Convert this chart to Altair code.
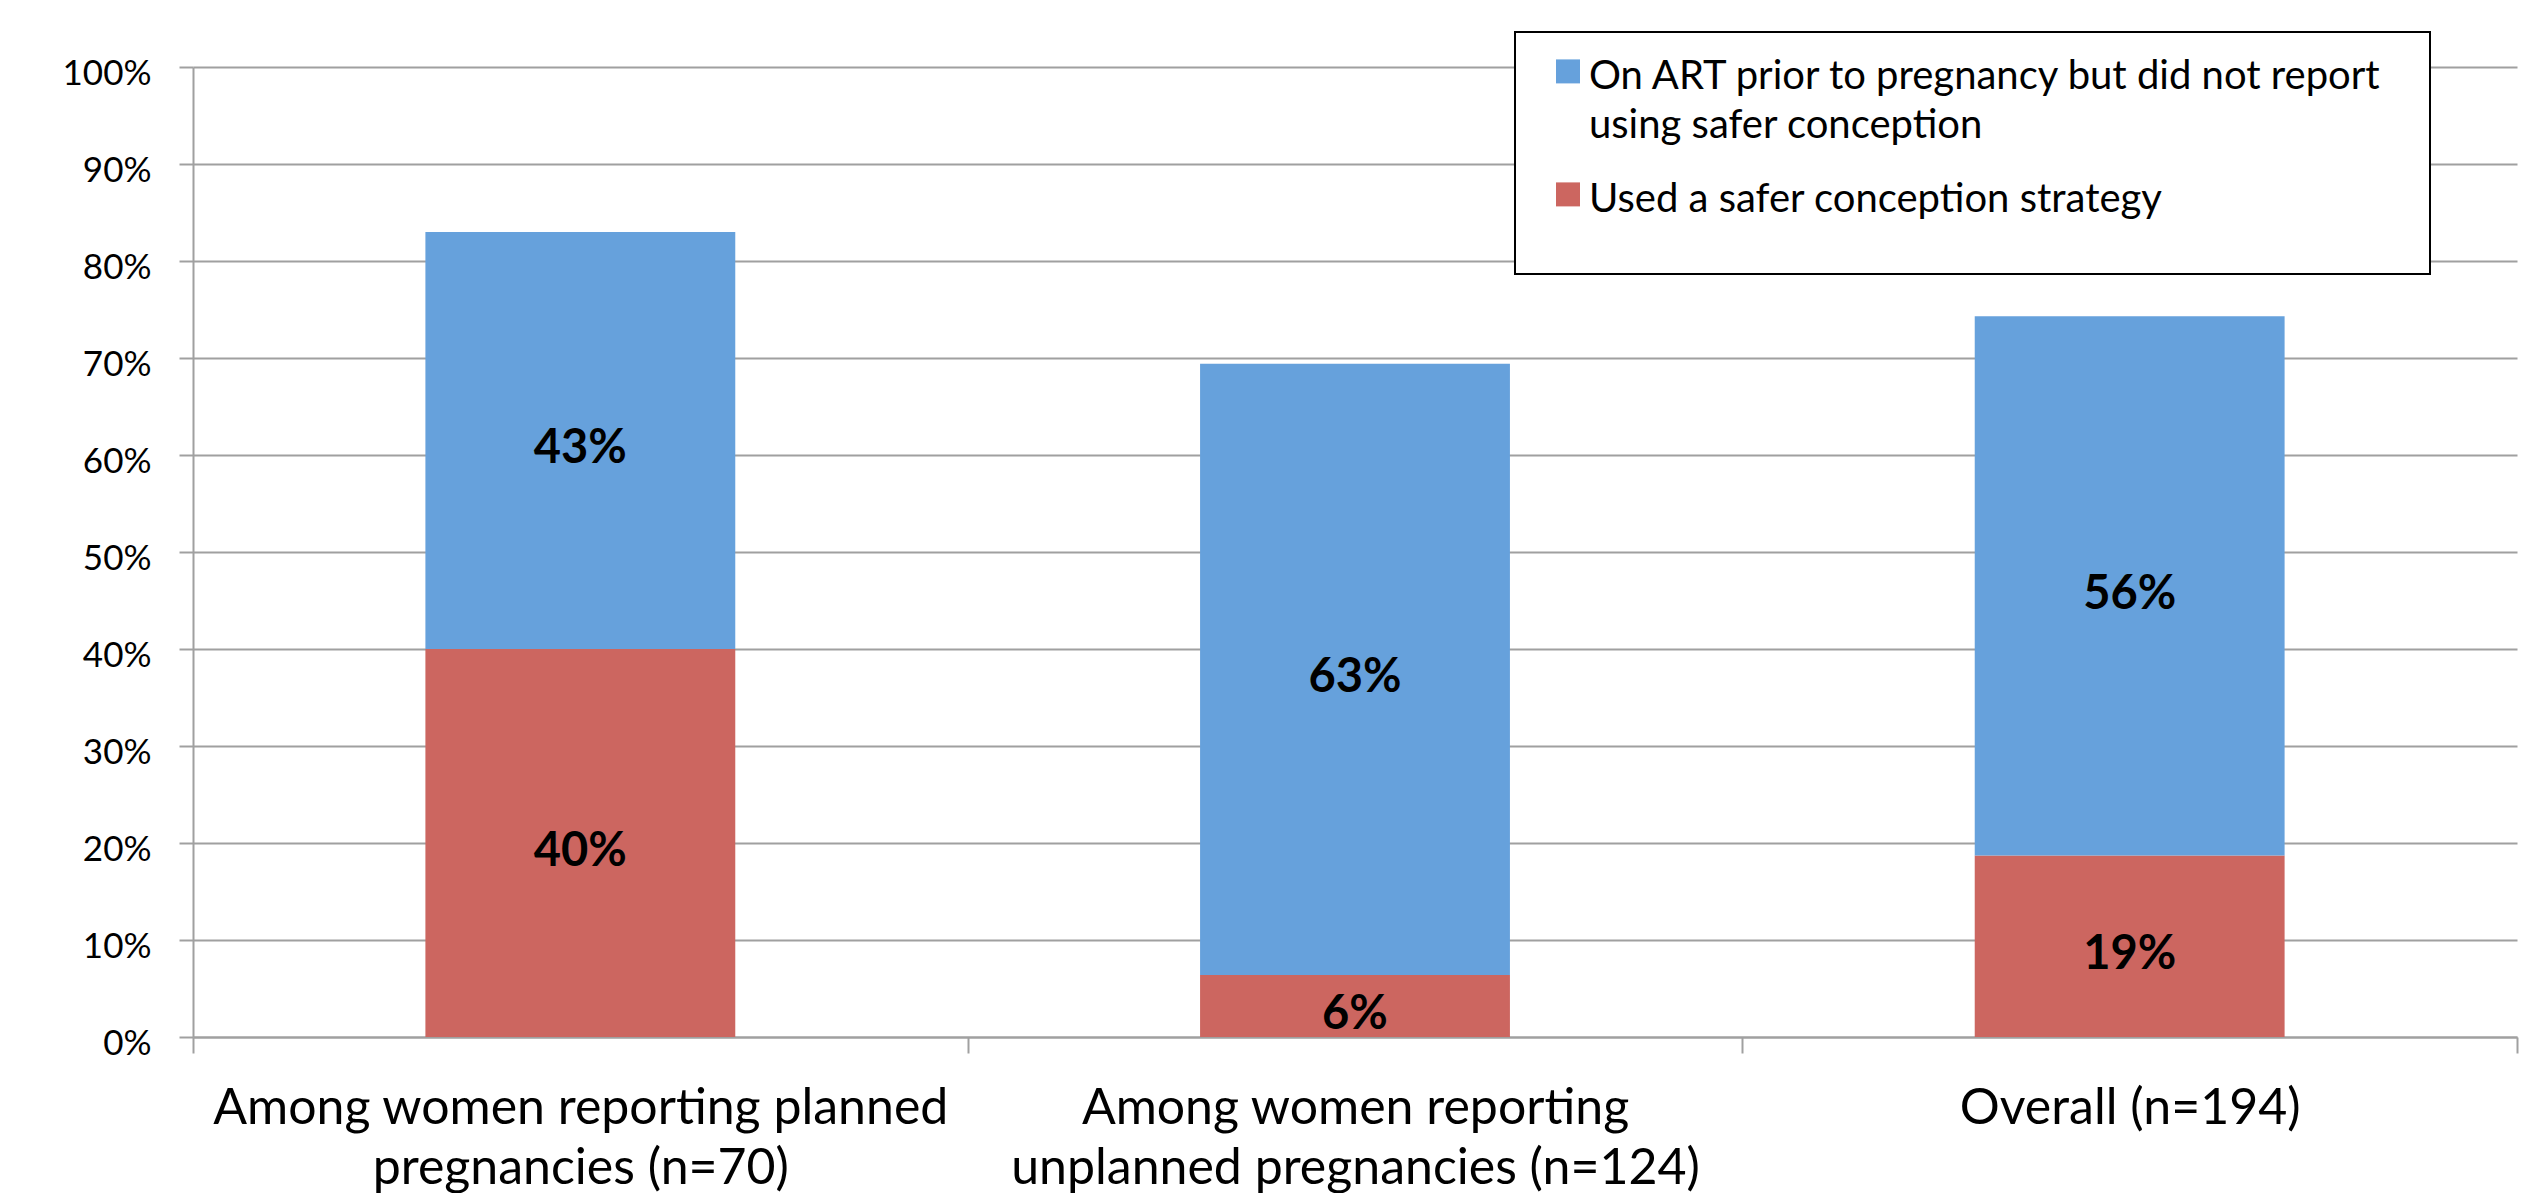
import altair as alt
import pandas as pd

categories = [
    "Among women reporting planned pregnancies (n=70)",
    "Among women reporting unplanned pregnancies (n=124)",
    "Overall (n=194)",
]
category_lines = [
    ["Among women reporting planned", "pregnancies (n=70)"],
    ["Among women reporting", "unplanned pregnancies (n=124)"],
    ["Overall (n=194)"],
]
series = [
    "On ART prior to pregnancy but did not report using safer conception",
    "Used a safer conception strategy",
]
PAD = "\u00a0" * 4 + "\u200b"
series_lines = [
    ["On ART prior to pregnancy but did not report" + PAD, "using safer conception"],
    ["Used a safer conception strategy", ""],
]
on_art_no_safer = [43.0, 63.0, 55.6]
used_safer = [40.0, 6.4, 18.7]
colors = ["#66A1DC", "#CC6660"]
y_ticks = [0, 10, 20, 30, 40, 50, 60, 70, 80, 90, 100]

rows = []
for i, c in enumerate(categories):
    rows.append({"category": c, "series": series[1], "value": used_safer[i], "ord": 0})
    rows.append({"category": c, "series": series[0], "value": on_art_no_safer[i], "ord": 1})
df = pd.DataFrame(rows)


def js_list(lines):
    return "[" + ",".join("'" + s + "'" for s in lines) + "]"


def label_expr(keys, lines_list):
    expr = "''"
    for k, ls in reversed(list(zip(keys, lines_list))):
        expr = "datum.label == '" + k + "' ? " + js_list(ls) + " : (" + expr + ")"
    return expr


GRAY = "#A0A0A0"
FONT = "Lato"

x_enc = alt.X(
    "category:N",
    sort=categories,
    scale=alt.Scale(paddingInner=0, paddingOuter=0),
    axis=alt.Axis(
        title=None,
        labelExpr=label_expr(categories, category_lines),
        labelAngle=0,
        labelFont=FONT,
        labelFontSize=50,
        labelColor="black",
        labelBaseline="alphabetic",
        labelPadding=70,
        labelLineHeight=60,
        labelLimit=1500,
        labelOverlap=False,
        tickBand="extent",
        tickSize=16,
        tickColor=GRAY,
        tickWidth=2,
        domainColor=GRAY,
        domainWidth=2,
        grid=False,
    ),
)

y_axis = alt.Axis(
    title=None,
    values=y_ticks,
    labelExpr="datum.value + '%'",
    labelFont=FONT,
    labelFontSize=35,
    labelColor="black",
    labelBaseline="alphabetic",
    labelOffset=17,
    labelPadding=28,
    tickSize=14,
    tickColor=GRAY,
    tickWidth=2,
    domainColor=GRAY,
    domainWidth=2,
    gridColor=GRAY,
    gridWidth=2,
)
y_scale = alt.Scale(domain=[0, 100], nice=False)

legend = alt.Legend(
    orient="none",
    legendX=1322,
    legendY=-35,
    title=" ",
    titleOrient="left",
    titleFontSize=1,
    titlePadding=28,
    padding=5,
    fillColor="white",
    strokeColor="black",
    symbolType="M-1,0.2L1,0.2L1,2.2L-1,2.2Z",
    symbolSize=576,
    symbolStrokeWidth=0,
    symbolOpacity=1,
    labelFont=FONT,
    labelFontSize=40,
    labelColor="black",
    labelBaseline="top",
    labelOffset=1,
    labelLimit=2000,
    labelExpr=label_expr(series, series_lines),
    rowPadding=14,
)

base = (
    alt.Chart(df)
    .transform_stack(
        stack="value",
        groupby=["category"],
        as_=["v0", "v1"],
        sort=[alt.SortField("ord", order="ascending")],
    )
    .transform_calculate(
        mid="(datum.v0 + datum.v1) / 2",
        lab="format(datum.value, '.0f') + '%'",
    )
)

bars = base.mark_bar(width=alt.RelativeBandSize(0.4)).encode(
    x=x_enc,
    y=alt.Y("v0:Q", scale=y_scale, axis=y_axis),
    y2="v1:Q",
    color=alt.Color(
        "series:N",
        scale=alt.Scale(domain=series, range=colors),
        legend=legend,
    ),
)

texts = base.mark_text(
    font=FONT, fontWeight="bold", fontSize=47, color="black", baseline="middle", dy=9
).encode(
    x=x_enc,
    y=alt.Y("mid:Q", scale=y_scale, axis=y_axis),
    text="lab:N",
)

chart = (
    alt.layer(bars, texts)
    .properties(
        width=2324,
        height=970,
        autosize=alt.AutoSizeParams(type="none"),
        padding={"left": 193, "top": 67, "right": 6, "bottom": 156},
        background="white",
    )
    .configure(
        style={"guide-label": {"lineHeight": 49}},
        view=alt.ViewConfig(strokeWidth=0),
        legend=alt.LegendConfig(strokeWidth=2),
    )
)

chart.save("out.html", embed_options={"renderer": "svg", "actions": False})
